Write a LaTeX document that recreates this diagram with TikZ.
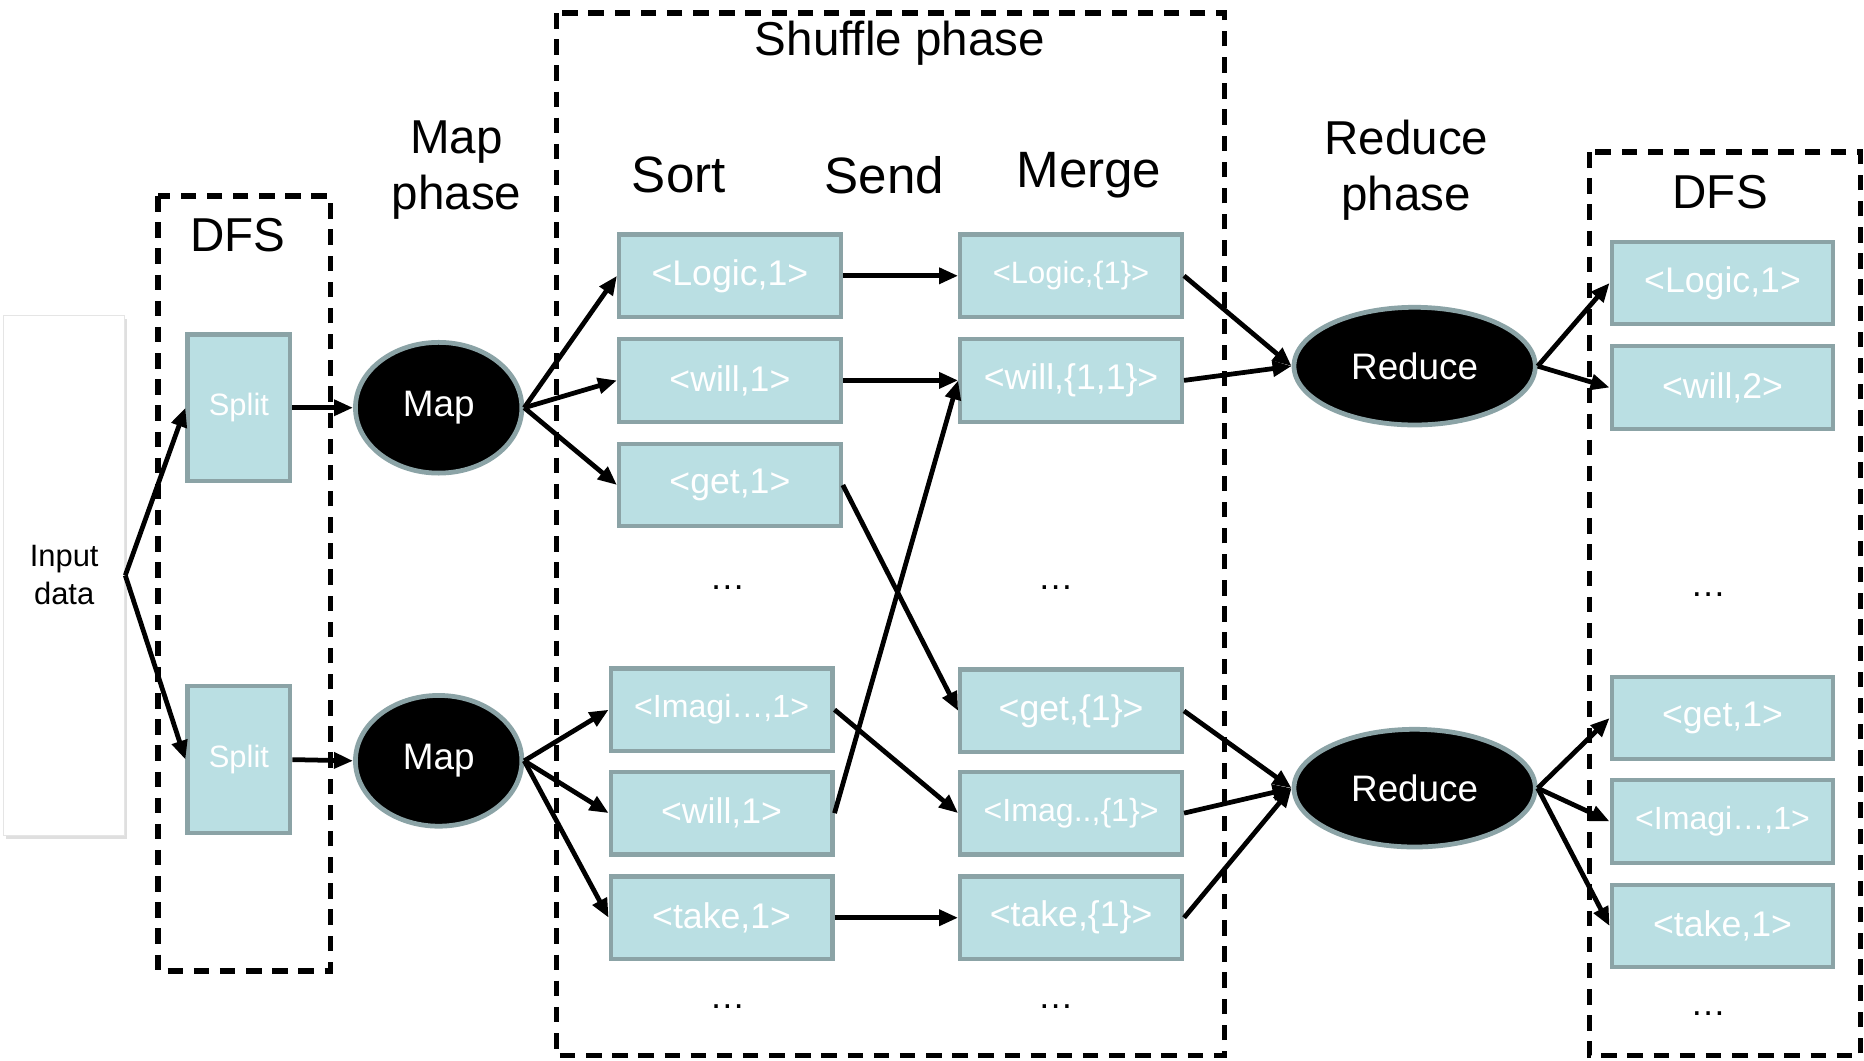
\documentclass[tikz,border=0pt]{standalone}
\usepackage{fontspec}
\setmainfont{Liberation Sans}
\usetikzlibrary{arrows.meta,shapes.geometric,shadows}
\definecolor{boxfill}{RGB}{186,223,227}
\definecolor{boxline}{RGB}{139,163,166}
\begin{document}
\begin{tikzpicture}[x=0.5pt,y=-0.5pt,
  kv/.style={draw=boxline, fill=boxfill, line width=1.8pt, minimum width=93.2pt, minimum height=34.7pt, text=white, font=\fontsize{15}{18}\selectfont, inner sep=0pt},
  kvs/.style={kv, font=\fontsize{13.5}{16}\selectfont},
  splitbox/.style={draw=boxline, fill=boxfill, line width=1.8pt, minimum width=43.2pt, minimum height=61.7pt, text=white, font=\fontsize{13}{15}\selectfont, inner sep=0pt},
  oval/.style={ellipse, draw=boxline, fill=black, line width=2pt, text=white, inner sep=0pt, font=\fontsize{15.5}{18}\selectfont},
  head/.style={font=\fontsize{20}{23.5}\selectfont, align=center, inner sep=0pt},
  dots/.style={font=\fontsize{15}{18}\selectfont, inner sep=0pt},
  frame/.style={dashed, dash pattern=on 6.5pt off 4.5pt, line width=2.3pt},
  arr/.style={line width=2pt, -{Triangle[length=8pt,width=6.5pt]}}]
\useasboundingbox (0,0) rectangle (1568,892);
% frames
\draw[frame] (133,165) rectangle (278,817);
\draw[frame] (468,11) rectangle (1030,888);
\draw[frame] (1337,128) rectangle (1565,888);
% input
\node[draw=black!10, fill=white, minimum width=51pt, minimum height=219pt, inner sep=0pt, align=center,
  font=\fontsize{13}{16}\selectfont, drop shadow={opacity=0.25, shadow xshift=1pt, shadow yshift=-1.5pt}] (in) at (54,484) {Input\\data};
% headings
\node[head] (hdfs1) at (200,198) {DFS};
\node[head] (hmap) at (384,143) {Map\\phase};
\node[head] (hshuf) at (757,36) {Shuffle phase};
\node[head, font=\fontsize{21.5}{25}\selectfont] (hsort) at (571,147) {Sort};
\node[head, font=\fontsize{21.5}{25}\selectfont] (hsend) at (744,147) {Send};
\node[head, font=\fontsize{21.5}{25}\selectfont] (hmerge) at (916,147) {Merge};
\node[head] (hred) at (1183,143) {Reduce\\phase};
\node[head] (hdfs2) at (1447,162) {DFS};
% splits and maps
\node[splitbox] (s1) at (201,343) {Split};
\node[splitbox] (s2) at (201,639) {Split};
\node[oval, minimum width=70pt, minimum height=55pt] (m1) at (369,343) {Map};
\node[oval, minimum width=70pt, minimum height=55pt] (m2) at (369,640) {Map};
% sort
\node[kv] (a1) at (614,232) {<Logic,1>};
\node[kv] (a2) at (614,320) {<will,1>};
\node[kv] (a3) at (614,408) {<get,1>};
\node[kvs] (b1) at (607,597) {<Imagi…,1>};
\node[kv] (b2) at (607,684) {<will,1>};
\node[kv] (b3) at (607,772) {<take,1>};
\node[dots] (d1) at (612,494) {…};
\node[dots] (d2) at (612,847) {…};
% merge
\node[kv, font=\fontsize{13}{16}\selectfont] (c1) at (901,232) {<Logic,\{1\}>};
\node[kv] (c2) at (901,320) {<will,\{1,1\}>};
\node[kv] (c3) at (901,598) {<get,\{1\}>};
\node[kvs] (c4) at (901,684) {<Imag..,\{1\}>};
\node[kv] (c5) at (901,772) {<take,\{1\}>};
\node[dots] (d3) at (888,494) {…};
\node[dots] (d4) at (888,847) {…};
% reduce
\node[oval, minimum width=101.5pt, minimum height=49.5pt] (r1) at (1190,308) {Reduce};
\node[oval, minimum width=101.5pt, minimum height=49.5pt] (r2) at (1190,663) {Reduce};
% output
\node[kv] (o1) at (1449,238) {<Logic,1>};
\node[kv] (o2) at (1449,326) {<will,2>};
\node[kv] (o3) at (1449,604) {<get,1>};
\node[kvs] (o4) at (1449,691) {<Imagi…,1>};
\node[kv] (o5) at (1449,779) {<take,1>};
\node[dots] (d5) at (1437,500) {…};
\node[dots] (d6) at (1437,853) {…};
% connectors
\draw[arr] (in.east) -- (s1.west);
\draw[arr] (in.east) -- (s2.west);
\draw[arr] (s1.east) -- (m1.west);
\draw[arr] (s2.east) -- (m2.west);
\draw[arr] (m1.east) -- (a1.west);
\draw[arr] (m1.east) -- (a2.west);
\draw[arr] (m1.east) -- (a3.west);
\draw[arr] (m2.east) -- (b1.west);
\draw[arr] (m2.east) -- (b2.west);
\draw[arr] (m2.east) -- (b3.west);
\draw[arr] (a1.east) -- (c1.west);
\draw[arr] (a2.east) -- (c2.west);
\draw[arr] (a3.east) -- (c3.west);
\draw[arr] (b1.east) -- (c4.west);
\draw[arr] (b2.east) -- (c2.west);
\draw[arr] (b3.east) -- (c5.west);
\draw[arr] (c1.east) -- (r1.west);
\draw[arr] (c2.east) -- (r1.west);
\draw[arr] (c3.east) -- (r2.west);
\draw[arr] (c4.east) -- (r2.west);
\draw[arr] (c5.east) -- (r2.west);
\draw[arr] (r1.east) -- (o1.west);
\draw[arr] (r1.east) -- (o2.west);
\draw[arr] (r2.east) -- (o3.west);
\draw[arr] (r2.east) -- (o4.west);
\draw[arr] (r2.east) -- (o5.west);
\end{tikzpicture}
\end{document}
